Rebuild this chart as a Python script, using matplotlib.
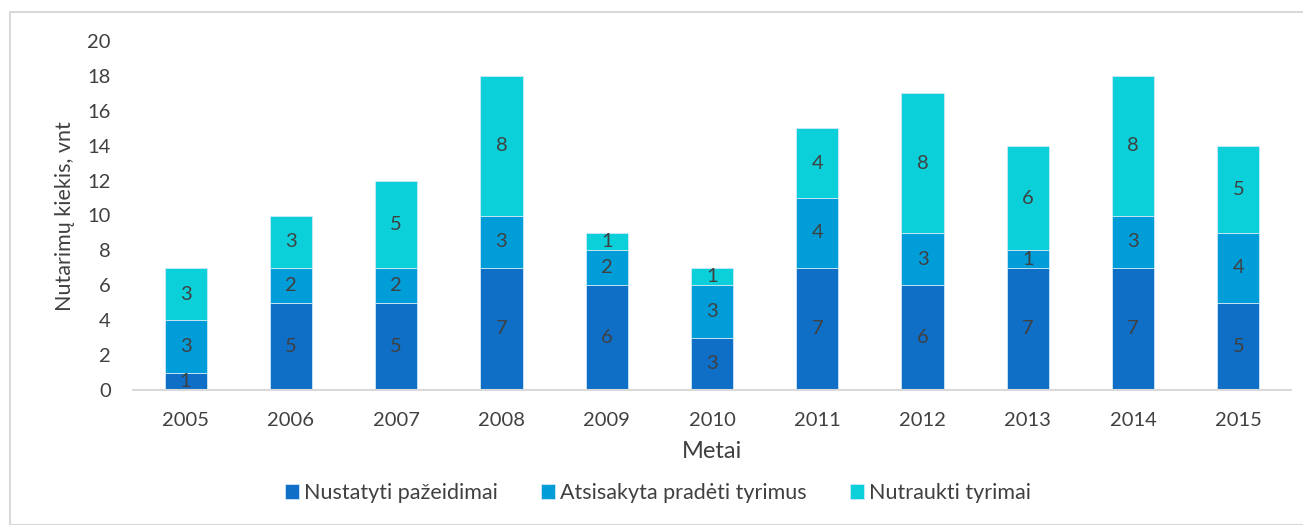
import matplotlib.pyplot as plt
from matplotlib.patches import Rectangle
import numpy as np

plt.rcParams['font.family'] = ['Lato', 'DejaVu Sans']

years = ['2005', '2006', '2007', '2008', '2009', '2010',
         '2011', '2012', '2013', '2014', '2015']
nustatyti = [1, 5, 5, 7, 6, 3, 7, 6, 7, 7, 5]
atsisakyta = [3, 2, 2, 3, 2, 3, 4, 3, 1, 3, 4]
nutraukti = [3, 3, 5, 8, 1, 1, 4, 8, 6, 8, 5]

labels = ['Nustatyti pažeidimai', 'Atsisakyta pradėti tyrimus', 'Nutraukti tyrimai']
colors = ['#0F6FC6', '#009DD9', '#0BD0D9']
text_col = '#404040'

W, H = 1303, 525
fig = plt.figure(figsize=(W / 100, H / 100), dpi=100)

# outer chart border (light gray)
fig.patches.append(Rectangle((10 / W, 0), 1.2, (H - 12) / H, transform=fig.transFigure,
                             fill=False, edgecolor='#D9D9D9', linewidth=1.5))

ax = fig.add_axes([133 / W, (H - 390) / H, (1291 - 133) / W, (390 - 41) / H])

x = np.arange(len(years))
bottom = np.zeros(len(years))
for vals, col, lab in zip([nustatyti, atsisakyta, nutraukti], colors, labels):
    bars = ax.bar(x, vals, 0.4, bottom=bottom, color=col, label=lab,
                  edgecolor='#CFE8F7', linewidth=0.6)
    for b, v, bt in zip(bars, vals, bottom):
        ax.text(b.get_x() + b.get_width() / 2, bt + v / 2, str(v),
                ha='center', va='center', fontsize=14.5, color=text_col)
    bottom += np.array(vals)

ax.set_xlim(-0.5, len(years) - 0.5)
ax.set_ylim(0, 20)
ax.set_yticks(range(0, 21, 2))
ax.set_xticks(x)
ax.set_xticklabels(years)
ax.tick_params(axis='both', length=0, labelsize=14.5, colors=text_col)
ax.tick_params(axis='y', pad=16)
ax.tick_params(axis='x', pad=16)

for s in ['top', 'right', 'left']:
    ax.spines[s].set_visible(False)
ax.spines['bottom'].set_color('#D9D9D9')
ax.spines['bottom'].set_linewidth(1.5)

ax.set_xlabel('Metai', fontsize=17, color=text_col)
ax.set_ylabel('Nutarimų kiekis, vnt', fontsize=15.5, color=text_col)
ax.xaxis.label.set_va('center')
ax.yaxis.label.set_va('center')
ax.xaxis.set_label_coords(712 / W, (H - 451) / H, transform=fig.transFigure)
ax.yaxis.set_label_coords(65 / W, (H - 216) / H, transform=fig.transFigure)

ax.legend(loc='center', bbox_to_anchor=(658 / W, (H - 493) / H),
          bbox_transform=fig.transFigure, ncol=3, frameon=False,
          fontsize=15.5, labelcolor=text_col, handlelength=0.65, handleheight=0.65,
          handletextpad=0.25, columnspacing=2.0)

fig.savefig('out.png', dpi=100)
